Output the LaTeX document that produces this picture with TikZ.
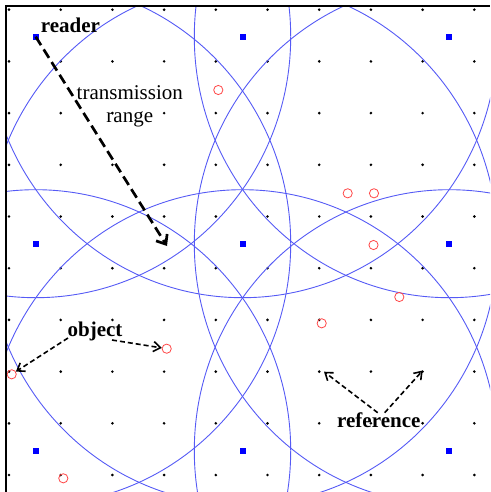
\documentclass[tikz,border=0pt]{standalone}
\usepackage{fontspec}
\setmainfont{Liberation Serif}
\usetikzlibrary{arrows.meta}
\definecolor{rangeblue}{RGB}{85,90,245}
\definecolor{objred}{RGB}{255,70,70}
\begin{document}
\begin{tikzpicture}[x=1pt,y=-1pt,
  rng/.style={draw=rangeblue, line width=0.9pt},
  rdr/.style={rectangle, fill=blue, minimum size=6pt, inner sep=0pt},
  refdot/.style={circle, fill=black, minimum size=2.9pt, inner sep=0pt},
  obj/.style={circle, draw=objred, line width=0.8pt, minimum size=9.2pt, inner sep=0pt},
  lbl/.style={font=\fontsize{21}{23}\selectfont\bfseries, inner sep=0pt},
  plainlbl/.style={font=\fontsize{21}{23}\selectfont, inner sep=0pt},
  bigarrow/.style={line width=2.7pt, dash pattern=on 10pt off 5pt, -{Straight Barb[length=8pt,width=13pt,line width=2.7pt]}},
  smallarrow/.style={line width=1.6pt, dash pattern=on 5pt off 3pt, -{Straight Barb[length=7pt,width=10pt,line width=1.6pt]}},
  frameline/.style={line width=2.2pt}
]
\useasboundingbox (0,0) rectangle (490,492);
% reference tags (grid of dots)
\foreach \i in {0,...,9}{
  \foreach \j in {0,...,9}{
    \node[refdot] (d-\i-\j) at (9+51.7*\i, 9.7+51.7*\j) {};
  }
}
% readers
\foreach \i in {0,1,2}{
  \foreach \j in {0,1,2}{
    \node[rdr] (r-\i-\j) at (35.7+206.8*\i, 36.7+207*\j) {};
  }
}
% transmission ranges
\begin{scope}
  \clip (6,5.8) rectangle (490,492);
  \foreach \i in {0,1,2}{
    \foreach \j in {0,1,2}{
      \draw[rng] (r-\i-\j.center) ellipse[x radius=255pt, y radius=261pt];
    }
  }
\end{scope}
% objects
\node[obj] (o1) at (218.3,90) {};
\node[obj] (o2) at (347.7,193.3) {};
\node[obj] (o3) at (374,193.3) {};
\node[obj] (o4) at (373.5,245) {};
\node[obj] (o5) at (399.3,297) {};
\node[obj] (o6) at (321.7,323.3) {};
\node[obj] (o7) at (166.7,348.7) {};
\node[obj] (o8) at (11.7,374.3) {};
\node[obj] (o9) at (63.3,478.3) {};
% frame
\coordinate (fb) at (6,492);
\coordinate (fc) at (6,5.8);
\coordinate (fr) at (490,5.8);
\draw[frameline] (fb) -- (fc) -- (fr);
% labels
\node[lbl, anchor=base west] (readerlbl) at (40.7,32.3) {reader};
\node[plainlbl, anchor=base] (tx1) at (129.8,100) {transmission};
\node[plainlbl, anchor=base] (tx2) at (129.8,123) {range};
\node[lbl, anchor=base] (objlbl) at (95,336.7) {object};
\node[lbl, anchor=base] (reflbl) at (378.8,427.7) {reference};
% arrows
\coordinate (rtip) at (167,246);
\draw[bigarrow] (r-0-0.center) -- (rtip);
\coordinate (oa1) at (68,338);
\coordinate (oa2) at (112,340);
\draw[smallarrow] (oa1) -- (o8);
\draw[smallarrow] (oa2) -- (o7);
\coordinate (ra1) at (377.7,412.7);
\coordinate (ra2) at (384.7,412.7);
\coordinate (rt1) at (324,371.7);
\coordinate (rt2) at (422.7,370.5);
\draw[smallarrow] (ra1) -- (rt1);
\draw[smallarrow] (ra2) -- (rt2);
\end{tikzpicture}
\end{document}
